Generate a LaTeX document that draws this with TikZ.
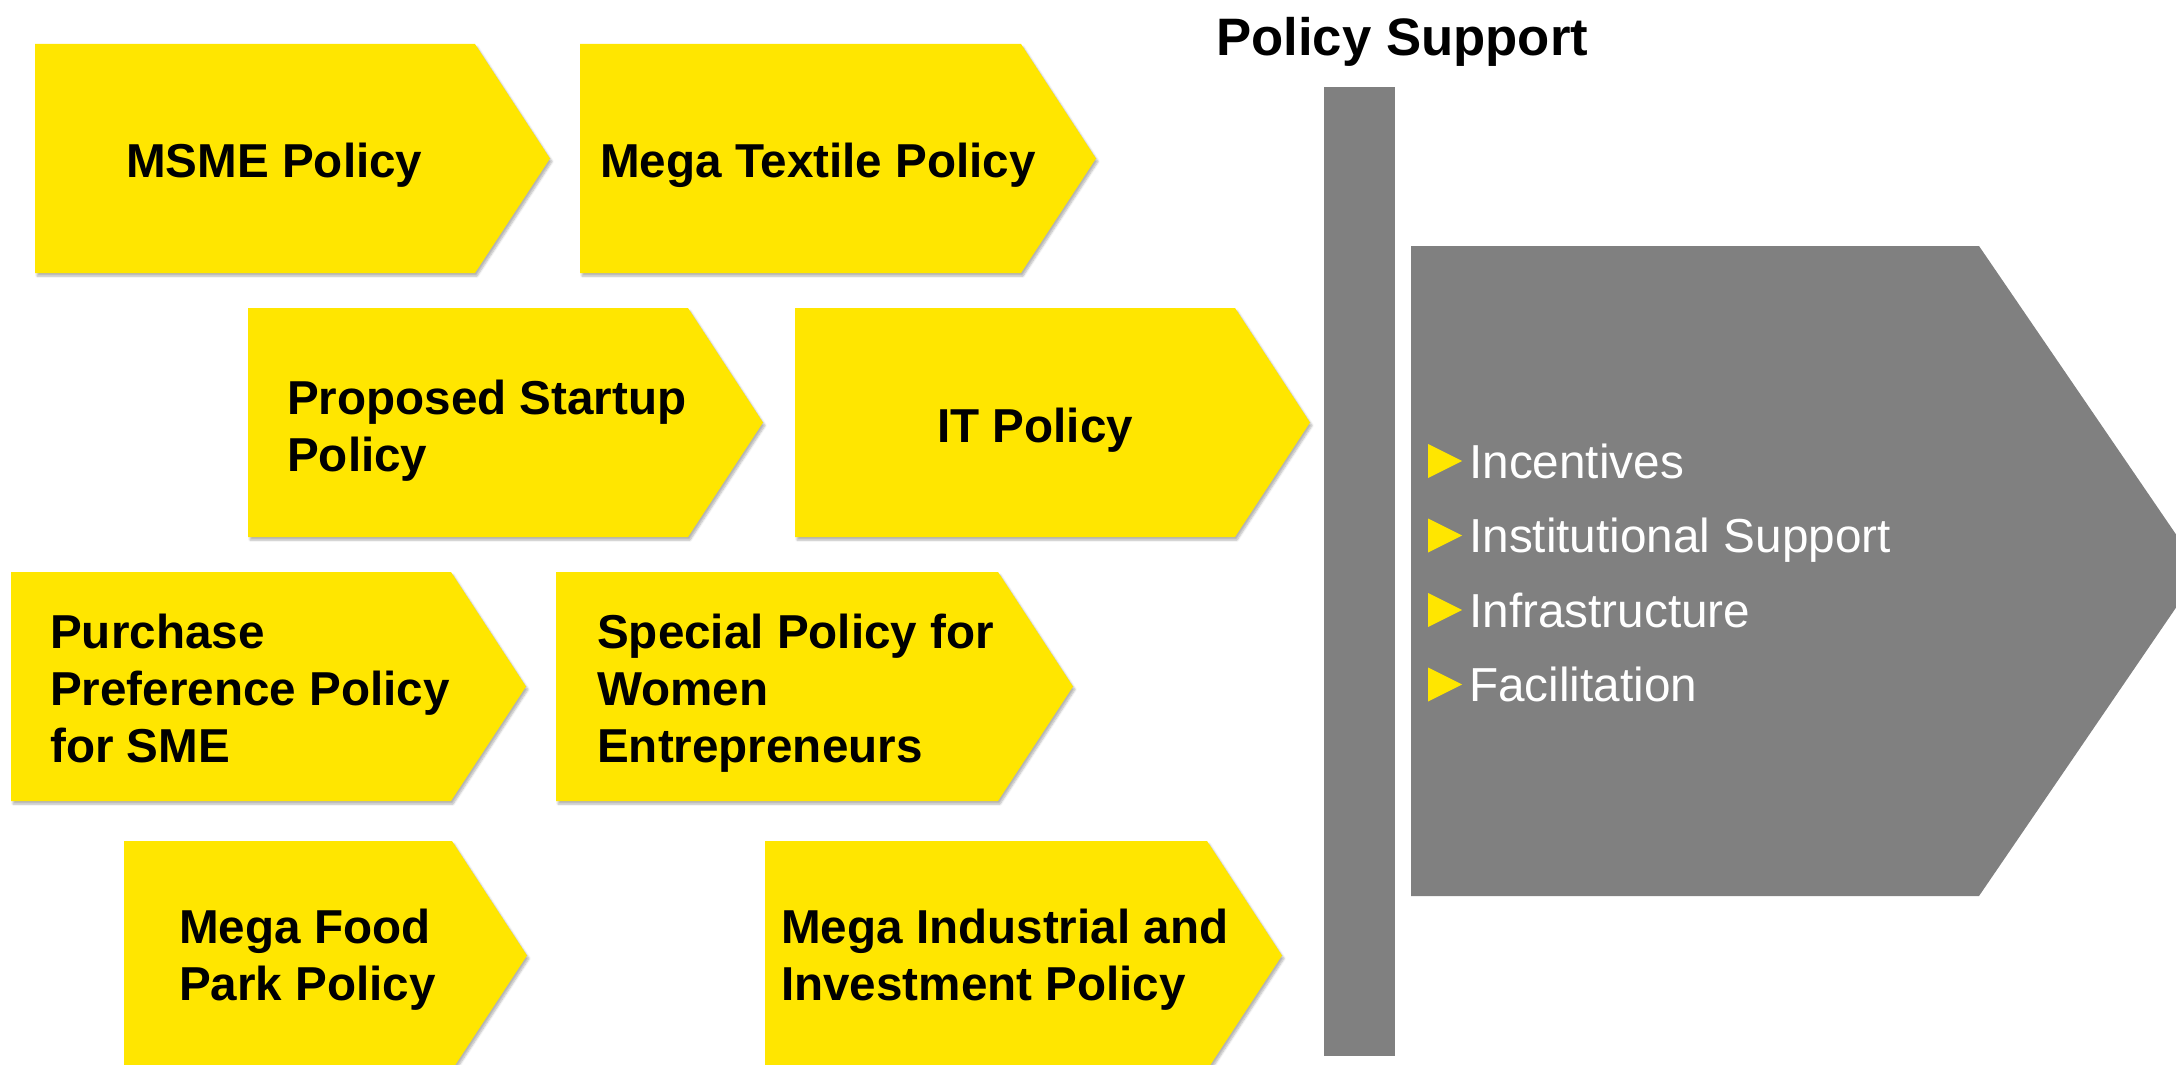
\documentclass[tikz,border=0pt]{standalone}
\usepackage{fontspec}
\setmainfont{Liberation Sans}
\usetikzlibrary{shadows.blur}
\definecolor{eyyellow}{HTML}{FFE600}
\definecolor{panelgray}{HTML}{808080}
\tikzstyle{policy} = [fill=eyyellow, blur shadow={shadow xshift=2pt, shadow yshift=-3pt, shadow blur steps=6, shadow opacity=30}]
\tikzstyle{policytext} = [inner sep=0pt, align=left, font=\fontsize{47.6}{57}\selectfont\bfseries]
\tikzstyle{heading} = [inner sep=0pt, font=\fontsize{52.7}{63}\selectfont\bfseries]
\tikzstyle{item} = [inner sep=0pt, text=white, font=\fontsize{47.7}{57}\selectfont]
% left, top, body width
\newcommand{\chevron}[3]{%
  \path[policy] (#1,#2) -- ++(#3,0) -- ++(75,114.5) -- ++(-75,114.5) -- ++(-#3,0) -- cycle;}

\begin{document}
\begin{tikzpicture}[x=1pt, y=-1pt]
    \useasboundingbox (0,0) rectangle (2176,1065);
        \chevron{35}{44}{440}
        \chevron{580}{44}{441}
        \chevron{248}{308}{440}
        \chevron{795}{308}{440}
        \chevron{11}{572}{440}
        \chevron{556}{572}{442}
        \chevron{124}{841}{328}
        \chevron{765}{841}{442}
        % base = last line
        \node[policytext, anchor=base west] (msme) at (126,177) {MSME Policy};
        \node[policytext, anchor=base west] (textile) at (600,177) {Mega Textile Policy};
        \node[policytext, anchor=base west] (startup) at (287,471) {Proposed Startup\\Policy};
        \node[policytext, anchor=base west] (it) at (937,442) {IT Policy};
        \node[policytext, anchor=base west] (purchase) at (50,762) {Purchase\\Preference Policy\\for SME};
        \node[policytext, anchor=base west] (women) at (597,762) {Special Policy for\\Women\\Entrepreneurs};
        \node[policytext, anchor=base west] (food) at (179,1000) {Mega Food\\Park Policy};
        \node[policytext, anchor=base west] (industrial) at (781,1000) {Mega Industrial and\\Investment Policy};
        \node[heading, anchor=base west] (title) at (1216,56) {Policy Support};
        \fill[panelgray] (1324,87) rectangle (1395,1056);
        \fill[panelgray] (1411,246) -- (1979,246) -- (2201,571) -- (1979,896) -- (1411,896) -- cycle;
        \foreach \t [count=\i] in {Incentives, Institutional Support, Infrastructure, Facilitation} {
            \pgfmathsetmacro\yb{478+74.5*(\i-1)}
            \fill[eyyellow] (1428,\yb) -- (1462,\yb-17) -- (1428,\yb-34) -- cycle;
            \node[item, anchor=base west] (item\i) at (1469,\yb) {\t};
        }
    \end{tikzpicture}
\end{document}
